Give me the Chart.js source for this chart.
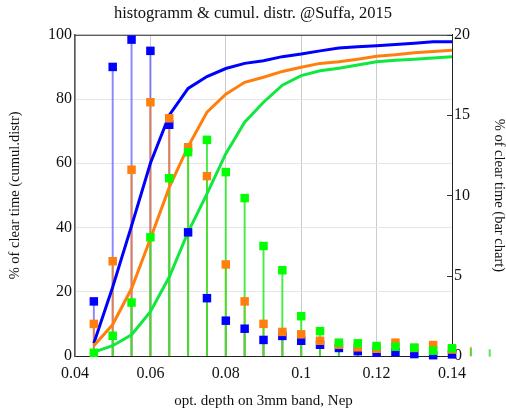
<!DOCTYPE html>
<html>
<head>
<meta charset="utf-8">
<script src="https://cdn.jsdelivr.net/npm/chart.js@4/dist/chart.umd.min.js"></script>
<style>
  html, body { margin: 0; padding: 0; background: #fff; }
</style>
</head>
<body>
<canvas id="chart" width="506" height="414"></canvas>
<script>
// optical depth bins (Nep); the last two sit past the end of the axis
const depth = [0.045, 0.05, 0.055, 0.06, 0.065, 0.07, 0.075, 0.08, 0.085, 0.09, 0.095,
               0.1, 0.105, 0.11, 0.115, 0.12, 0.125, 0.13, 0.135, 0.14, 0.145, 0.15];

// histogram, % of clear time (right axis)
const histBlue   = [3.4, 18.0, 19.7, 19.0, 14.4, 7.7, 3.6, 2.2, 1.7, 1.0, 1.25,
                    0.95, 0.7, 0.5, 0.3, 0.2, 0.25, 0.12, 0.05, 0.1, 0, 0];
const histOrange = [2.0, 5.9, 11.6, 15.8, 14.8, 13.0, 11.2, 5.7, 3.4, 2.0, 1.5,
                    1.35, 0.95, 0.7, 0.54, 0.45, 0.83, 0.5, 0.68, 0.4, 0.55, 0];
const histGreen  = [0.2, 1.26, 3.33, 7.39, 11.07, 12.69, 13.46, 11.45, 9.83, 6.85, 5.34,
                    2.48, 1.55, 0.83, 0.79, 0.62, 0.58, 0.52, 0.33, 0.48, 0.45, 0.4];

// cumulative distribution, % (left axis), 0.045 .. 0.14
const cumBlue   = [4.0, 21.5, 40.5, 60, 75, 83.3, 87.0, 89.5, 91.1, 91.9, 93.2,
                   94.0, 95.0, 95.9, 96.3, 96.6, 97.0, 97.4, 97.8, 97.8];
const cumOrange = [3.2, 9.8, 21, 36.5, 52.5, 65.2, 75.9, 81.5, 85.2, 86.8, 88.6,
                   89.9, 91.1, 91.6, 92.4, 93.3, 93.8, 94.4, 94.8, 95.2];
const cumGreen  = [1.2, 3.2, 6.6, 13.8, 24.6, 38.6, 50.5, 63, 72.8, 79, 84.3,
                   87.3, 88.8, 89.6, 90.6, 91.6, 92.1, 92.4, 92.8, 93.2];

const xTicks = [0.04, 0.06, 0.08, 0.1, 0.12, 0.14];

const BLUE = "#0000ff", ORANGE = "#ff7f0e", GREEN = "#00ff00", GREEN_LINE = "#10e840";
const serif = "'Liberation Serif', 'Times New Roman', serif";

const pts = (ys) => ys.map((y, i) => ({ x: depth[i], y: y }));
const inAxis = (ys) => pts(ys).filter(p => p.x <= xTicks[xTicks.length - 1] + 1e-9);

function markers(ys, color) {
  return {
    type: "line", data: inAxis(ys), yAxisID: "y2", showLine: false, order: 0,
    pointStyle: "rect", pointRadius: 6, pointBorderWidth: 0,
    pointBackgroundColor: color, pointBorderColor: color, clip: false
  };
}
function curve(ys, color) {
  return {
    type: "line", data: pts(ys), yAxisID: "y", order: 1,
    borderColor: color, borderWidth: 3, pointRadius: 0, tension: 0, fill: false
  };
}
function stems(ys, color) {
  return {
    type: "bar", data: pts(ys), yAxisID: "y2", order: 2, grouped: false,
    backgroundColor: color, barThickness: 1.3, clip: false
  };
}

const frame = {
  id: "frame",
  beforeDatasetsDraw(chart) {
    const { ctx, chartArea: a, scales } = chart;
    ctx.save();
    ctx.strokeStyle = "#333";
    ctx.lineWidth = 1;
    ctx.beginPath();
    ctx.moveTo(a.left, a.top + 0.5);
    ctx.lineTo(a.right, a.top + 0.5);
    scales.y2.ticks.forEach(t => {
      const y = Math.round(scales.y2.getPixelForValue(t.value)) + 0.5;
      ctx.moveTo(a.right - 5, y);
      ctx.lineTo(a.right, y);
    });
    ctx.stroke();
    ctx.restore();
  }
};

new Chart(document.getElementById("chart"), {
  type: "line",
  data: {
    datasets: [
      markers(histGreen, GREEN),
      markers(histOrange, ORANGE),
      markers(histBlue, BLUE),
      curve(cumGreen, GREEN_LINE),
      curve(cumOrange, ORANGE),
      curve(cumBlue, BLUE),
      stems(histGreen, "rgba(40,235,40,0.85)"),
      stems(histOrange, "rgba(255,127,14,0.7)"),
      stems(histBlue, "rgba(60,60,255,0.6)")
    ]
  },
  options: {
    responsive: false,
    animation: false,
    layout: { padding: 0 },
    plugins: {
      legend: { display: false },
      tooltip: { enabled: false },
      title: {
        display: true,
        text: "histogramm & cumul. distr. @Suffa, 2015",
        color: "#111",
        font: { family: serif, size: 16.5, weight: "normal" },
        padding: { top: 4, bottom: 11 }
      }
    },
    scales: {
      x: {
        type: "linear", min: 0.04, max: 0.14, offset: false,
        afterBuildTicks: s => { s.ticks = xTicks.map(v => ({ value: v })); },
        afterFit: s => { s.height = 58; },
        ticks: {
          color: "#111", font: { family: serif, size: 16 }, padding: 8,
          callback: v => String(+v.toFixed(2))
        },
        grid: { color: "#cccccc", drawTicks: false, offset: false },
        border: { color: "#222", width: 1 },
        title: {
          display: true, text: "opt. depth on 3mm band, Nep", color: "#111",
          font: { family: serif, size: 15 }, padding: { top: 0, bottom: 4 }
        }
      },
      y: {
        position: "left", min: 0, max: 100,
        afterFit: s => { s.width = 75; },
        ticks: { stepSize: 20, color: "#111", font: { family: serif, size: 16 }, padding: 3 },
        grid: { color: "#e6e6e6", drawTicks: false },
        border: { color: "#555", width: 1.5 },
        title: {
          display: true, text: "% of clear time (cumul.distr)", color: "#111",
          font: { family: serif, size: 14.5 }, padding: { top: 6, bottom: 0 }
        }
      },
      y2: {
        position: "right", min: 0, max: 20,
        afterFit: s => { s.width = 54; },
        ticks: { stepSize: 5, color: "#111", font: { family: serif, size: 16 }, padding: 2 },
        grid: { drawOnChartArea: false, drawTicks: false },
        border: { color: "#222", width: 1 },
        title: {
          display: true, text: "% of clear time (bar chart)", color: "#111",
          font: { family: serif, size: 14.5, lineHeight: 1 }, padding: { top: 0, bottom: 0 }
        }
      }
    }
  },
  plugins: [frame]
});
</script>
</body>
</html>
